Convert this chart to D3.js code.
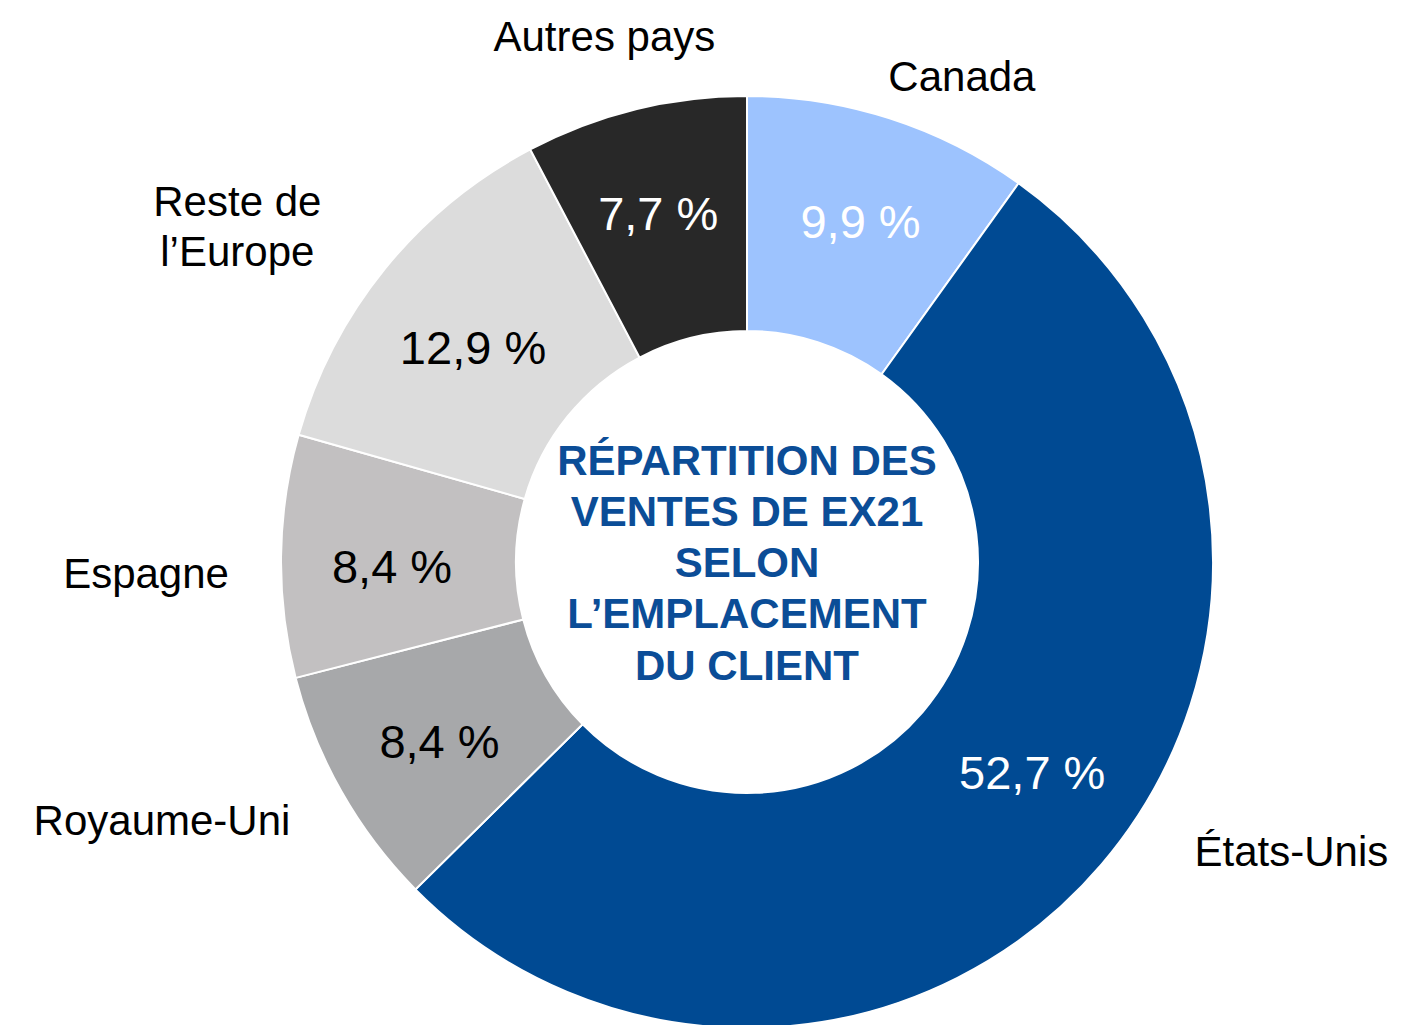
<!DOCTYPE html>
<html><head><meta charset="utf-8">
<script src="https://cdn.jsdelivr.net/npm/d3@7"></script>
<style>
html,body{margin:0;padding:0;background:#fff;}
svg{display:block;font-family:"Liberation Sans",Arial,sans-serif;}
</style>
</head><body>
<svg id="chart" width="1415" height="1025"></svg>
<script>
// ---- data ----
const categories = ["Canada", "États-Unis", "Royaume-Uni", "Espagne", "Reste de l’Europe", "Autres pays"];
const values = [9.9, 52.7, 8.4, 8.4, 12.9, 7.7];
const valueLabels = ["9,9 %", "52,7 %", "8,4 %", "8,4 %", "12,9 %", "7,7 %"];
const categoryLabelLines = [["Canada"], ["États-Unis"], ["Royaume-Uni"], ["Espagne"], ["Reste de", "l’Europe"], ["Autres pays"]];
const titleLines = ["RÉPARTITION DES", "VENTES DE EX21", "SELON", "L’EMPLACEMENT", "DU CLIENT"];

// ---- styles / layout ----
const colors = ["#9DC3FE", "#004A93", "#A7A8AA", "#C2C0C1", "#DCDCDC", "#282828"];
const valueTextColors = ["#ffffff", "#ffffff", "#000000", "#000000", "#000000", "#ffffff"];
const labelNudges = [[57, 5], [152, -46], [-136, 4], [-85, 17], [-109, -11], [-19, -25]];
const valueNudges = [[4, 0], [13, -22], [4, 3], [3, 9], [4, 11], [-3, -1]];

const W = 1415, H = 1025;
const cx = 747, cy = 562, R = 466, r0 = 231;
const svg = d3.select("#chart");
const g = svg.append("g").attr("transform", `translate(${cx},${cy})`);

const rows = categories.map((c, i) => ({ c, v: values[i], i }));
const pie = d3.pie().sort(null).value(d => d.v).startAngle(0).endAngle(2 * Math.PI);
const arcs = pie(rows);
const arc = d3.arc().innerRadius(r0).outerRadius(R);
const labelArc = d3.arc().innerRadius(358).outerRadius(358);
const outArc = d3.arc().innerRadius(R + 50).outerRadius(R + 50);

g.selectAll("path.slice").data(arcs).join("path")
  .attr("class", "slice")
  .attr("d", arc)
  .attr("fill", d => colors[d.data.i])
  .attr("stroke", "#ffffff")
  .attr("stroke-width", 2);

// value labels
g.selectAll("text.val").data(arcs).join("text")
  .attr("class", "val")
  .attr("transform", d => {
    const [x, y] = labelArc.centroid(d);
    const n = valueNudges[d.data.i];
    return `translate(${x + n[0]},${y + n[1]})`;
  })
  .attr("text-anchor", "middle")
  .attr("dy", "0.36em")
  .attr("font-size", 47)
  .attr("fill", d => valueTextColors[d.data.i])
  .text(d => valueLabels[d.data.i]);

// category labels
const lineH = 50;
g.selectAll("text.cat").data(arcs).join("text")
  .attr("class", "cat")
  .attr("transform", d => {
    const [x, y] = outArc.centroid(d);
    const n = labelNudges[d.data.i];
    return `translate(${x + n[0]},${y + n[1]})`;
  })
  .attr("text-anchor", "middle")
  .attr("font-size", 42)
  .attr("fill", "#000000")
  .each(function(d) {
    const lines = categoryLabelLines[d.data.i];
    const t = d3.select(this);
    lines.forEach((ln, k) => {
      t.append("tspan")
        .attr("x", 0)
        .attr("y", (k - (lines.length - 1) / 2) * lineH)
        .attr("dy", "0.36em")
        .text(ln);
    });
  });

// center title
const tLineH = 51.2;
const title = g.append("text")
  .attr("text-anchor", "middle")
  .attr("font-size", 42)
  .attr("font-weight", "bold")
  .attr("fill", "#0B4D97");
titleLines.forEach((ln, k) => {
  title.append("tspan")
    .attr("x", 0)
    .attr("y", (k - (titleLines.length - 1) / 2) * tLineH)
    .attr("dy", "0.36em")
    .text(ln);
});
</script>
</body></html>
